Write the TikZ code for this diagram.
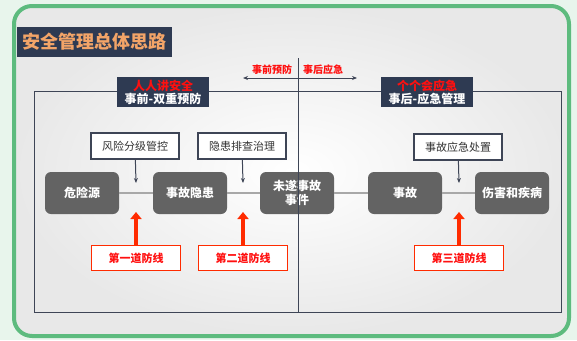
\documentclass[tikz,border=0pt]{standalone}
\usepackage{fontspec}
\setmainfont{Noto Sans CJK SC}
\usetikzlibrary{arrows.meta}
\definecolor{mint}{HTML}{E8F5EC}
\definecolor{framegreen}{HTML}{5DBB7E}
\definecolor{navy}{HTML}{2E3A52}
\definecolor{titleorange}{HTML}{F2A468}
\definecolor{stagegray}{HTML}{636363}
\definecolor{linkgray}{HTML}{A8A8A8}
\definecolor{linegray}{HTML}{3E4556}
\definecolor{defred}{HTML}{FF2B00}
\definecolor{textred}{HTML}{FF1010}
\begin{document}
\begin{tikzpicture}[x=1pt,y=-1pt,
  stage/.style={rounded corners=6pt,fill=stagegray,text=white,minimum width=74pt,minimum height=42pt,
    inner sep=1pt,align=center,font=\bfseries\fontsize{12}{13}\selectfont},
  measure/.style={draw=linegray,line width=1.2pt,fill=white,minimum width=88pt,minimum height=26pt,
    inner sep=1pt,text=black!80,font=\fontsize{11}{12}\selectfont},
  defence/.style={draw=defred,line width=1.2pt,fill=white,text=textred,minimum width=89pt,minimum height=25pt,
    inner sep=1pt,font=\bfseries\fontsize{11}{12}\selectfont},
  header/.style={fill=navy,minimum width=92pt,minimum height=30pt,inner sep=1pt,align=center,
    font=\bfseries\fontsize{12}{13}\selectfont},
  phase/.style={text=textred,font=\bfseries\fontsize{10}{11}\selectfont,inner sep=1pt},
  frame/.style={draw=linegray,line width=1pt},
  link/.style={draw=linkgray,line width=1.3pt},
  push/.style={draw=linegray,line width=1pt,-{Stealth[length=5pt,width=4pt]}},
  guard/.style={draw=defred,line width=3.5pt,-{Triangle[length=7pt,width=11pt]}}]
		% background and frame
		\fill[mint] (0,0) rectangle (577,340);
		\useasboundingbox (0,0) rectangle (577,340);
		\shade[rounded corners=18pt,inner color=white,outer color=gray!18] (14,6) rectangle (569,336);
		\draw[framegreen,line width=4pt,rounded corners=18pt] (14,6) rectangle (569,336);
		\node[fill=navy,text=titleorange,minimum width=155pt,minimum height=30pt,inner sep=1pt,
		  font=\bfseries\fontsize{18}{19}\selectfont] (heading) at (94,42) {安全管理总体思路};
		% outer box
		\draw[frame] (34,91) rectangle (561,312);
		\node[header] (pre) at (163,92) {\textcolor{textred}{人人讲安全}\\\textcolor{white}{事前-双重预防}};
		\node[header] (post) at (427,92) {\textcolor{textred}{个个会应急}\\\textcolor{white}{事后-应急管理}};
		% chain
		\node[stage] (hazard) at (82,193) {危险源};
		\node[stage] (hidden) at (190,193) {事故隐患};
		\node[stage] (nearmiss) at (297,193) {未遂事故\\[1pt]事件};
		\node[stage] (accident) at (405,193) {事故};
		\node[stage] (harm) at (512,193) {伤害和疾病};
		\draw[link] (hazard) -- (hidden);
		\draw[link] (hidden) -- (nearmiss);
		\draw[link] (nearmiss) -- (accident);
		\draw[link] (accident) -- (harm);
		% divider
		\coordinate (topdiv) at (298,58);
		\coordinate (botdiv) at (298,312);
		\draw[frame] (topdiv) -- (botdiv);
		\coordinate (pastend) at (243,78);
		\coordinate (futend) at (357,78);
		\draw[frame,{Stealth[length=5pt,width=4pt]}-{Stealth[length=5pt,width=4pt]}] (pastend) -- (futend);
		\node[phase] (before) at (272,70) {事前预防};
		\node[phase] (after) at (323,70) {事后应急};
		% measures
		\node[measure] (riskctl) at (135,146) {风险分级管控};
		\node[measure] (hazctl) at (242,146) {隐患排查治理};
		\node[measure] (emerg) at (458,147) {事故应急处置};
		\coordinate (gate1) at (136,183);
		\coordinate (gate2) at (243,183);
		\coordinate (gate3) at (459,183);
		\draw[push] (riskctl) -- (gate1);
		\draw[push] (hazctl) -- (gate2);
		\draw[push] (emerg) -- (gate3);
		% defence lines
		\node[defence] (line1) at (136,258) {第一道防线};
		\node[defence] (line2) at (243,258) {第二道防线};
		\node[defence] (line3) at (459,258) {第三道防线};
		\coordinate (base1) at (136,212);
		\coordinate (base2) at (243,212);
		\coordinate (base3) at (459,212);
		\draw[guard] (line1) -- (base1);
		\draw[guard] (line2) -- (base2);
		\draw[guard] (line3) -- (base3);
\end{tikzpicture}
\end{document}
